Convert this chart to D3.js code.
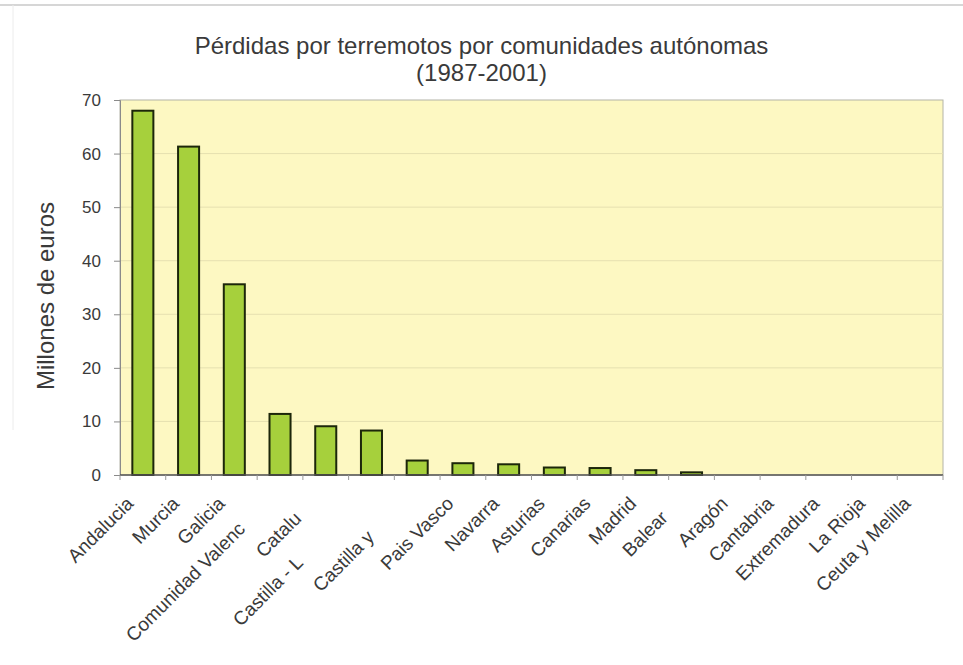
<!DOCTYPE html>
<html lang="es">
<head>
<meta charset="utf-8">
<script src="https://cdn.jsdelivr.net/npm/d3@7"></script>
<style>
  html, body { margin: 0; padding: 0; background: #ffffff; }
  svg { display: block; font-family: "Liberation Sans", Arial, sans-serif; }
</style>
</head>
<body>
<svg id="chart" width="963" height="665"></svg>
<script>
// Pérdidas por terremotos (millones de euros), 1987-2001
const regions = [
  "Andalucia", "Murcia", "Galicia", "Comunidad Valenciana", "Cataluña",
  "Castilla - La Mancha", "Castilla y León", "Pais Vasco", "Navarra",
  "Asturias", "Canarias", "Madrid", "Baleares", "Aragón", "Cantabria",
  "Extremadura", "La Rioja", "Ceuta y Melilla"
];
// part of each name that fits in the label box
const shownLabels = [
  "Andalucia", "Murcia", "Galicia", "Comunidad Valenc", "Catalu",
  "Castilla - L", "Castilla y", "Pais Vasco", "Navarra",
  "Asturias", "Canarias", "Madrid", "Balear", "Aragón", "Cantabria",
  "Extremadura", "La Rioja", "Ceuta y Melilla"
];
const losses = [68.0, 61.3, 35.6, 11.4, 9.1, 8.3, 2.7, 2.2, 2.0, 1.4, 1.3, 0.9, 0.5, 0, 0, 0, 0, 0];
const yTicks = [0, 10, 20, 30, 40, 50, 60, 70];
const titleLines = ["Pérdidas por terremotos por comunidades autónomas", "(1987-2001)"];
const yTitle = "Millones de euros";

const svg = d3.select("#chart");
const W = 963, H = 665;
const plot = { left: 120, right: 943, top: 100, bottom: 475 };

// faint outer chart frame
svg.append("line").attr("x1", 0).attr("x2", W).attr("y1", 5).attr("y2", 5)
  .attr("stroke", "#c8c8c8").attr("stroke-width", 1.5);
svg.append("line").attr("x1", 13).attr("x2", 13).attr("y1", 5).attr("y2", 430)
  .attr("stroke", "#ececec").attr("stroke-width", 1);

const x = d3.scaleBand().domain(regions).range([plot.left, plot.right])
  .paddingInner(0.54).paddingOuter(0.27);
const y = d3.scaleLinear().domain([0, 70]).range([plot.bottom, plot.top]);

// plot area
svg.append("rect")
  .attr("x", plot.left).attr("y", plot.top)
  .attr("width", plot.right - plot.left).attr("height", plot.bottom - plot.top)
  .attr("fill", "#fdf8c2").attr("stroke", "#b4b4a8").attr("stroke-width", 1);

// gridlines
svg.append("g").selectAll("line")
  .data(yTicks.filter(t => t > 0 && t < 70))
  .join("line")
  .attr("x1", plot.left).attr("x2", plot.right)
  .attr("y1", d => y(d)).attr("y2", d => y(d))
  .attr("stroke", "#e6e0b0").attr("stroke-width", 1);

// bars
svg.append("g").selectAll("rect")
  .data(regions)
  .join("rect")
  .attr("x", d => x(d))
  .attr("y", (d, i) => y(losses[i]))
  .attr("width", x.bandwidth())
  .attr("height", (d, i) => y(0) - y(losses[i]))
  .attr("fill", "#a6d03c")
  .attr("stroke", "#1c260a")
  .attr("stroke-width", 2);

// y axis
const yAxis = svg.append("g")
  .attr("transform", `translate(${plot.left},0)`)
  .call(d3.axisLeft(y).tickValues(yTicks).tickSize(6).tickPadding(13));
yAxis.select(".domain").attr("stroke", "#8a8a8a");
yAxis.selectAll(".tick line").attr("stroke", "#8a8a8a");
yAxis.selectAll(".tick text")
  .attr("font-size", 17).attr("fill", "#3a3a3a")
  .attr("font-family", "Liberation Sans, Arial, sans-serif");

// x axis line and category boundary ticks
const xAxis = svg.append("g");
xAxis.append("line")
  .attr("x1", plot.left).attr("x2", plot.right)
  .attr("y1", plot.bottom).attr("y2", plot.bottom)
  .attr("stroke", "#555").attr("stroke-width", 1.5);
xAxis.selectAll("line.bound")
  .data(d3.range(regions.length + 1))
  .join("line").attr("class", "bound")
  .attr("x1", i => plot.left + i * x.step())
  .attr("x2", i => plot.left + i * x.step())
  .attr("y1", plot.bottom).attr("y2", plot.bottom + 5)
  .attr("stroke", "#9a9a9a");

// rotated category labels; a clipped name keeps the position of the full name
const labelFont = 19;
const measure = svg.append("text").attr("font-size", labelFont).attr("visibility", "hidden");
const textWidth = s => { measure.text(s); return measure.node().getComputedTextLength(); };
const labelShift = regions.map((name, i) => textWidth(name) - textWidth(shownLabels[i]));
measure.remove();

xAxis.selectAll("text.cat")
  .data(regions)
  .join("text").attr("class", "cat")
  .attr("font-size", labelFont)
  .attr("fill", "#3a3a3a")
  .attr("text-anchor", "end")
  .attr("dy", "0.35em")
  .attr("transform", (d, i) => {
    const cx = x(d) + x.bandwidth() / 2;
    const s = labelShift[i] / Math.SQRT2;
    return `translate(${cx - 13 - s},${plot.bottom + 25 + s}) rotate(-45)`;
  })
  .text((d, i) => shownLabels[i]);

// title
svg.append("text")
  .attr("x", W / 2).attr("y", 54)
  .attr("text-anchor", "middle")
  .attr("font-size", 24).attr("fill", "#3a3a3a")
  .selectAll("tspan").data(titleLines).join("tspan")
  .attr("x", W / 2).attr("dy", (d, i) => i === 0 ? 0 : 27)
  .text(d => d);

// y axis title
svg.append("text")
  .attr("transform", "translate(54,296) rotate(-90)")
  .attr("text-anchor", "middle")
  .attr("font-size", 24).attr("fill", "#3a3a3a")
  .text(yTitle);
</script>
</body>
</html>
